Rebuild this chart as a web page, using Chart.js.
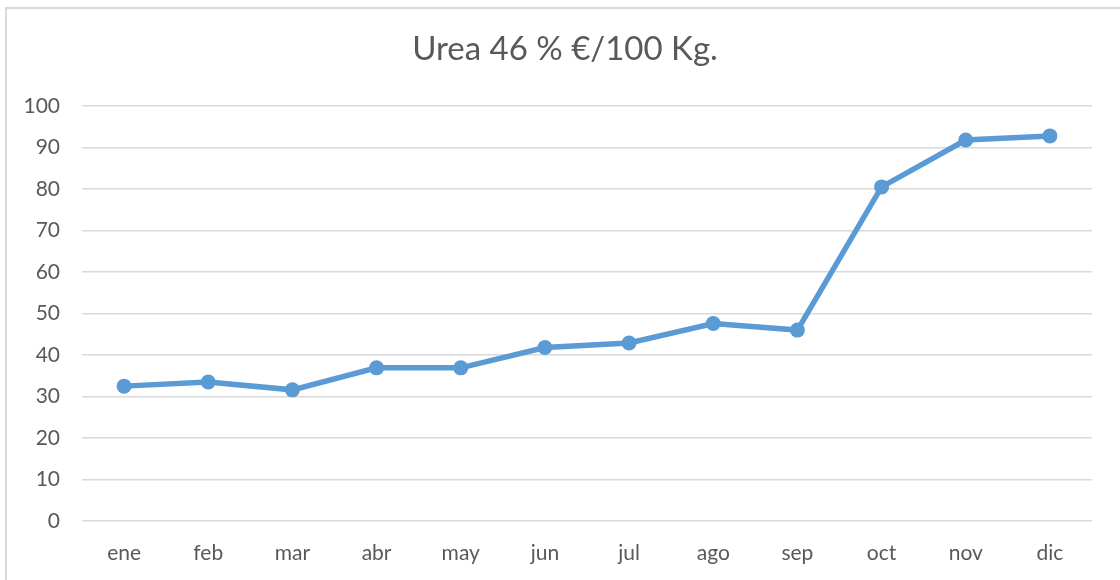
<!DOCTYPE html>
<html>
<head>
<meta charset="utf-8">
<script src="https://cdn.jsdelivr.net/npm/chart.js@4.4.1/dist/chart.umd.min.js"></script>
<style>
html,body{margin:0;padding:0;background:#fff;}
#wrap{position:relative;width:1120px;height:580px;overflow:hidden;}
#frame{position:absolute;left:5px;top:7px;width:1130px;height:600px;border:2px solid #d9d9d9;box-sizing:border-box;}
canvas{position:absolute;left:0;top:0;}
</style>
</head>
<body>
<div id="wrap">
<div id="frame"></div>
<canvas id="c" width="1120" height="580"></canvas>
</div>
<script>
const titleText = 'Urea 46 % €/100 Kg.';
const months = ['ene','feb','mar','abr','may','jun','jul','ago','sep','oct','nov','dic'];
const prices = [32.5, 33.5, 31.6, 36.9, 36.9, 41.8, 42.9, 47.6, 46.0, 80.5, 91.8, 92.8];
const yMin = 0, yMax = 100, yStep = 10;

const FONT = 'Lato, "Open Sans", sans-serif';
const TXT = '#595959';

new Chart(document.getElementById('c'), {
  type: 'line',
  data: {
    labels: months,
    datasets: [{
      data: prices,
      yAxisID: 'y',
      borderColor: '#5B9BD5',
      backgroundColor: '#5B9BD5',
      borderWidth: 5.5,
      pointRadius: 7.5,
      pointHoverRadius: 7.5,
      pointBorderWidth: 0,
      tension: 0,
      fill: false
    }]
  },
  options: {
    responsive: false,
    animation: false,
    devicePixelRatio: 1,
    layout: { padding: { left: 10, right: 0, top: 0, bottom: 0 } },
    plugins: {
      legend: { display: false },
      tooltip: { enabled: false },
      title: {
        display: true,
        text: titleText,
        color: TXT,
        font: { family: FONT, size: 33, weight: 'normal', lineHeight: 1.2 },
        padding: { top: 30, bottom: 36.4 }
      }
    },
    scales: {
      x: {
        offset: true,
        grid: { display: false, drawTicks: false },
        border: { display: false },
        ticks: { color: TXT, font: { family: FONT, size: 21 }, padding: 20, maxRotation: 0 },
        afterFit: s => { s.height = 59; }
      },
      y: {
        position: 'left',
        min: yMin, max: yMax,
        grid: { color: '#d9d9d9', lineWidth: 1.5, drawTicks: false },
        border: { display: false },
        ticks: { stepSize: yStep, color: TXT, font: { family: FONT, size: 21 }, padding: 22 },
        afterFit: s => { s.width = 72; }
      },
      yRight: {
        position: 'right',
        min: yMin, max: yMax,
        grid: { display: false, drawTicks: false },
        border: { display: false },
        ticks: { display: false },
        afterFit: s => { s.width = 28; }
      }
    }
  }
});
</script>
</body>
</html>
